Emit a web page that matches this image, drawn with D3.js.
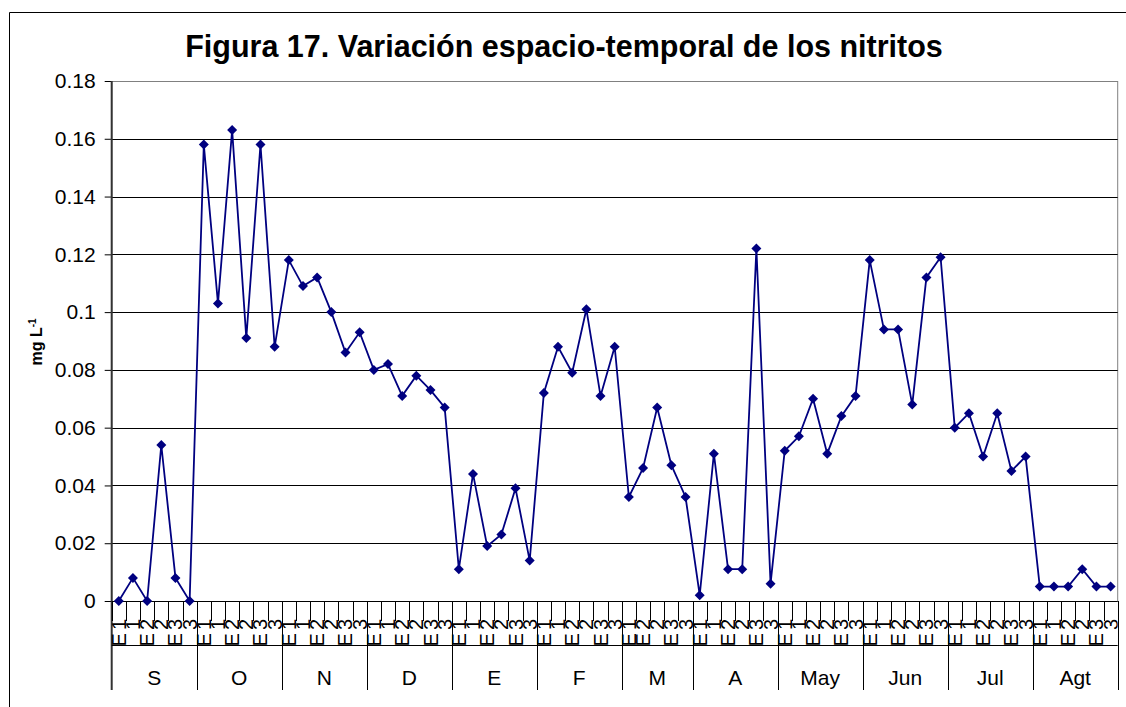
<!DOCTYPE html>
<html lang="es">
<head>
<meta charset="UTF-8">
<title>Figura 17</title>
<script src="https://cdn.jsdelivr.net/npm/d3@7"></script>
<style>
    body { margin: 0; background: #fff; }
    svg { display: block; font-family: Arial, "Liberation Sans", sans-serif; }
</style>
</head>
<body>
<div id="chart"></div>
<script>
    // months on the outer axis level, stations on the inner one
    const months = ["S", "O", "N", "D", "E", "F", "M", "A", "May", "Jun", "Jul", "Agt"];
    const stations = ["E1", "E1", "E2", "E2", "E3", "E3"];
    const stationsMarch = ["E1", "E2", "E2", "E3", "E3"];
    const yTickLabels = ["0", "0.02", "0.04", "0.06", "0.08", "0.1", "0.12", "0.14", "0.16", "0.18"];

    // nitritos (mg/L), one value per station sample, in month order
    const nitritos = [
        0, 0.008, 0, 0.054, 0.008, 0,
        0.158, 0.103, 0.163, 0.091, 0.158, 0.088,
        0.118, 0.109, 0.112, 0.100, 0.086, 0.093,
        0.080, 0.082, 0.071, 0.078, 0.073, 0.067,
        0.011, 0.044, 0.019, 0.023, 0.039, 0.014,
        0.072, 0.088, 0.079, 0.101, 0.071, 0.088,
        0.036, 0.046, 0.067, 0.047, 0.036,
        0.002, 0.051, 0.011, 0.011, 0.122, 0.006,
        0.052, 0.057, 0.070, 0.051, 0.064, 0.071,
        0.118, 0.094, 0.094, 0.068, 0.112, 0.119,
        0.060, 0.065, 0.050, 0.065, 0.045, 0.050,
        0.005, 0.005, 0.005, 0.011, 0.005, 0.005
    ];

    const width = 1126;
    const height = 707;
    const PLOT_LEFT = 111.7;
    const PLOT_RIGHT = 1117.7;
    const PLOT_TOP = 81;
    const PLOT_BOTTOM = 601;
    const LINE_COLOR = "#000080";

    // flatten month/station into one category list
    const cats = [];
    months.forEach(function (m) {
        const st = m === "M" ? stationsMarch : stations;
        st.forEach(function (s, j) {
            cats.push({month: m, station: s, first: j === 0, value: nitritos[cats.length]});
        });
    });
    cats.forEach(function (c, i) {
        c.index = i;
        c.groupStart = c.first || cats[i - 1].station !== c.station;
    });

    const svg = d3.select("#chart").append("svg")
        .attr("width", width)
        .attr("height", height);

    const x = d3.scaleBand()
        .domain(d3.range(cats.length))
        .range([PLOT_LEFT, PLOT_RIGHT]);

    const y = d3.scaleLinear()
        .domain([0, 0.18])
        .range([PLOT_BOTTOM, PLOT_TOP]);

    const bw = x.bandwidth();
    const cx = function (i) { return x(i) + bw / 2; };

    // chart frame
    svg.append("line").attr("x1", 9.5).attr("x2", 9.5).attr("y1", 12.5).attr("y2", height)
        .attr("stroke", "#000");
    svg.append("line").attr("x1", 9.5).attr("x2", width).attr("y1", 12.5).attr("y2", 12.5)
        .attr("stroke", "#000");

    // title
    svg.append("text")
        .attr("x", 564)
        .attr("y", 57)
        .attr("text-anchor", "middle")
        .style("font-size", "30.5px")
        .style("font-weight", "bold")
        .text("Figura 17. Variación espacio-temporal de los nitritos");

    // plot border + gridlines
    svg.append("rect")
        .attr("x", PLOT_LEFT).attr("y", PLOT_TOP + 0.5)
        .attr("width", PLOT_RIGHT - PLOT_LEFT).attr("height", PLOT_BOTTOM - PLOT_TOP)
        .attr("fill", "none").attr("stroke", "#808080");

    const yTicks = yTickLabels.map(Number);
    svg.append("g").selectAll("line")
        .data(yTicks.filter(function (d) { return d > 0 && d < 0.18; }))
        .enter().append("line")
        .attr("x1", PLOT_LEFT).attr("x2", PLOT_RIGHT)
        .attr("y1", function (d) { return Math.round(y(d)) + 0.5; })
        .attr("y2", function (d) { return Math.round(y(d)) + 0.5; })
        .attr("stroke", "#000");

    // y axis
    const yAxis = svg.append("g")
        .attr("transform", "translate(" + PLOT_LEFT + ",0)")
        .call(d3.axisLeft(y)
            .tickValues(yTicks)
            .tickSize(7)
            .tickPadding(9)
            .tickFormat(function (d, i) { return yTickLabels[i]; }));
    yAxis.select(".domain").remove();
    yAxis.selectAll("line").attr("stroke", "#000");
    yAxis.selectAll("text")
        .attr("fill", "#000")
        .style("font-family", "Arial, 'Liberation Sans', sans-serif")
        .style("font-size", "21px");
    svg.append("line")
        .attr("x1", PLOT_LEFT).attr("x2", PLOT_LEFT)
        .attr("y1", PLOT_TOP).attr("y2", 690)
        .attr("stroke", "#333").attr("stroke-width", 2);

    // axis title
    const yTitle = svg.append("text")
        .attr("transform", "translate(42,342) rotate(-90)")
        .attr("text-anchor", "middle")
        .style("font-size", "16px")
        .style("font-weight", "bold");
    yTitle.append("tspan").text("mg L");
    yTitle.append("tspan").attr("dy", -6).style("font-size", "10px").text("-1");

    // x axis line and category ticks
    svg.append("line")
        .attr("x1", PLOT_LEFT).attr("x2", PLOT_RIGHT)
        .attr("y1", PLOT_BOTTOM + 0.5).attr("y2", PLOT_BOTTOM + 0.5)
        .attr("stroke", "#000");

    const edges = cats.map(function (c) { return x(c.index); }).concat([PLOT_RIGHT]);
    svg.append("g").selectAll("line")
        .data(edges)
        .enter().append("line")
        .attr("x1", function (d) { return Math.round(d) + 0.5; })
        .attr("x2", function (d) { return Math.round(d) + 0.5; })
        .attr("y1", PLOT_BOTTOM).attr("y2", 621)
        .attr("stroke", "#000");

    svg.append("line")
        .attr("x1", PLOT_LEFT).attr("x2", PLOT_RIGHT)
        .attr("y1", 645.5).attr("y2", 645.5)
        .attr("stroke", "#000");

    // station labels, rotated and squeezed like the original
    const defs = svg.append("defs");
    defs.append("clipPath").attr("id", "digitclip")
        .append("rect").attr("x", PLOT_LEFT).attr("y", 618)
        .attr("width", PLOT_RIGHT - PLOT_LEFT).attr("height", 11);

    svg.append("g").attr("clip-path", "url(#digitclip)")
        .selectAll("text")
        .data(cats)
        .enter().append("text")
        .attr("transform", function (d) {
            return "translate(" + (cx(d.index) + 7) + ",630) rotate(-90)";
        })
        .style("font-size", "20px")
        .text(function (d) { return d.station.slice(1); });

    svg.append("g").selectAll("text")
        .data(cats.filter(function (d) { return d.groupStart; }))
        .enter().append("text")
        .attr("transform", function (d) {
            return "translate(" + (cx(d.index) + 7) + ",646.5) rotate(-90)";
        })
        .style("font-size", "20px")
        .text(function (d) { return d.station.slice(0, 1); });

    // month level
    const monthSpans = months.map(function (m) {
        const inMonth = cats.filter(function (c) { return c.month === m; });
        return {
            name: m,
            x0: x(inMonth[0].index),
            x1: x(inMonth[inMonth.length - 1].index) + bw
        };
    });

    svg.append("g").selectAll("line")
        .data(monthSpans)
        .enter().append("line")
        .attr("x1", function (d) { return Math.round(d.x1) + 0.5; })
        .attr("x2", function (d) { return Math.round(d.x1) + 0.5; })
        .attr("y1", PLOT_BOTTOM).attr("y2", 690)
        .attr("stroke", "#000");

    svg.append("g").selectAll("text")
        .data(monthSpans)
        .enter().append("text")
        .attr("x", function (d) { return (d.x0 + d.x1) / 2; })
        .attr("y", 685)
        .attr("text-anchor", "middle")
        .style("font-size", "21px")
        .text(function (d) { return d.name; });

    // series
    const line = d3.line()
        .x(function (d) { return cx(d.index); })
        .y(function (d) { return y(d.value); });

    svg.append("path")
        .datum(cats)
        .attr("d", line)
        .attr("fill", "none")
        .attr("stroke", LINE_COLOR)
        .attr("stroke-width", 1.8);

    const diamond = d3.symbol().type(d3.symbolSquare).size(50);
    svg.append("g").selectAll("path")
        .data(cats)
        .enter().append("path")
        .attr("d", diamond)
        .attr("transform", function (d) {
            return "translate(" + cx(d.index) + "," + y(d.value) + ") rotate(45)";
        })
        .attr("fill", LINE_COLOR);
</script>
</body>
</html>
